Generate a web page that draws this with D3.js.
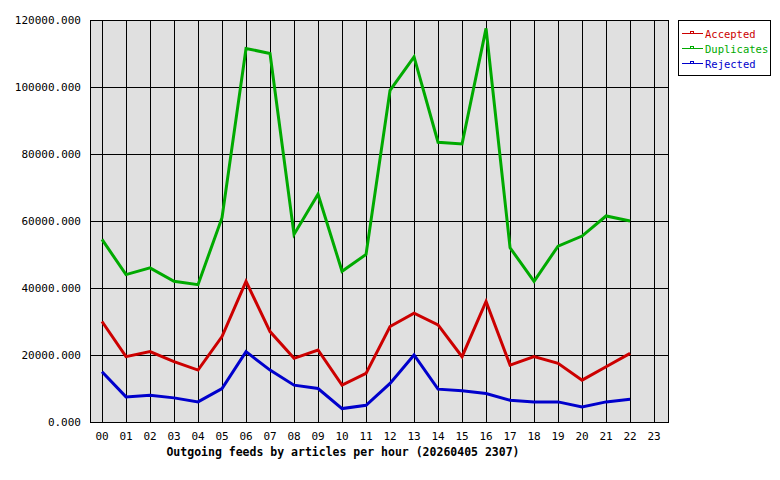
<!DOCTYPE html><html><head><meta charset="utf-8"><script src="https://cdn.jsdelivr.net/npm/d3@7"></script>
<style>body{margin:0;background:#fff}text{font-family:"DejaVu Sans Mono",monospace}</style></head><body><svg id="c" width="780" height="480"></svg><script>
const hours=["00","01","02","03","04","05","06","07","08","09","10","11","12","13","14","15","16","17","18","19","20","21","22","23"];
const accepted=[30000,19500,21000,18000,15500,25500,42000,27000,19000,21500,11000,14500,28500,32500,29000,19500,36000,17000,19500,17500,12500,16500,20500];
const duplicates=[54500,44000,46000,42000,41000,61000,111500,110000,56000,68000,45000,50000,99000,109000,83500,83000,117500,52000,42000,52500,55500,61500,60000];
const rejected=[15000,7500,8000,7200,6000,10000,21000,15500,11000,10000,4000,5000,11500,20000,9800,9300,8500,6500,6000,6000,4500,6000,6800];
const yTicks=[0,20000,40000,60000,80000,100000,120000];
const series=[{name:"Accepted",v:accepted,c:"#cc0000"},{name:"Duplicates",v:duplicates,c:"#00aa00"},{name:"Rejected",v:rejected,c:"#0000cc"}];
const svg=d3.select("#c");
const x=d3.scaleLinear().domain([-0.5,23.58]).range([90,668]);
const y=d3.scaleLinear().domain([0,120000]).range([422,20]);
const px=v=>Math.round(v)+0.5;
svg.append("rect").attr("x",90).attr("y",20).attr("width",578).attr("height",402).attr("fill","#e0e0e0");
const g=svg.append("g").attr("shape-rendering","crispEdges");
hours.forEach((h,i)=>g.append("line").attr("x1",px(x(i))).attr("x2",px(x(i))).attr("y1",20).attr("y2",422).attr("stroke","#000"));
yTicks.forEach(t=>g.append("line").attr("x1",90).attr("x2",668).attr("y1",px(y(t))).attr("y2",px(y(t))).attr("stroke","#000"));
svg.append("rect").attr("x",90.5).attr("y",20.5).attr("width",578).attr("height",402).attr("fill","none").attr("stroke","#000").attr("shape-rendering","crispEdges");
yTicks.forEach(t=>svg.append("text").attr("x",81).attr("y",y(t)+4).attr("text-anchor","end").attr("font-size",11).text(t.toFixed(3)));
hours.forEach((h,i)=>svg.append("text").attr("x",x(i)).attr("y",440).attr("text-anchor","middle").attr("font-size",11).text(h));
svg.append("text").attr("x",343).attr("y",456).attr("text-anchor","middle").attr("font-size",11.5).attr("font-weight","bold").text("Outgoing feeds by articles per hour (20260405 2307)");
const line=d3.line().x((d,i)=>x(i)).y(d=>y(d));
series.forEach(s=>svg.append("path").attr("d",line(s.v)).attr("fill","none").attr("stroke",s.c).attr("stroke-width",3));
const lg=svg.append("g");
lg.append("rect").attr("x",678.5).attr("y",20.5).attr("width",92).attr("height",55).attr("fill","#fff").attr("stroke","#000").attr("shape-rendering","crispEdges");
series.forEach((s,i)=>{const yy=33.5+i*15;
lg.append("line").attr("x1",682).attr("x2",703).attr("y1",yy).attr("y2",yy).attr("stroke",s.c).attr("shape-rendering","crispEdges");
lg.append("rect").attr("x",690.5).attr("y",yy-2).attr("width",3).attr("height",2).attr("fill","none").attr("stroke",s.c).attr("stroke-width",1).attr("shape-rendering","crispEdges");
lg.append("text").attr("x",705).attr("y",yy+4).attr("font-size",10.5).attr("fill",s.c).text(s.name);});
</script></body></html>
